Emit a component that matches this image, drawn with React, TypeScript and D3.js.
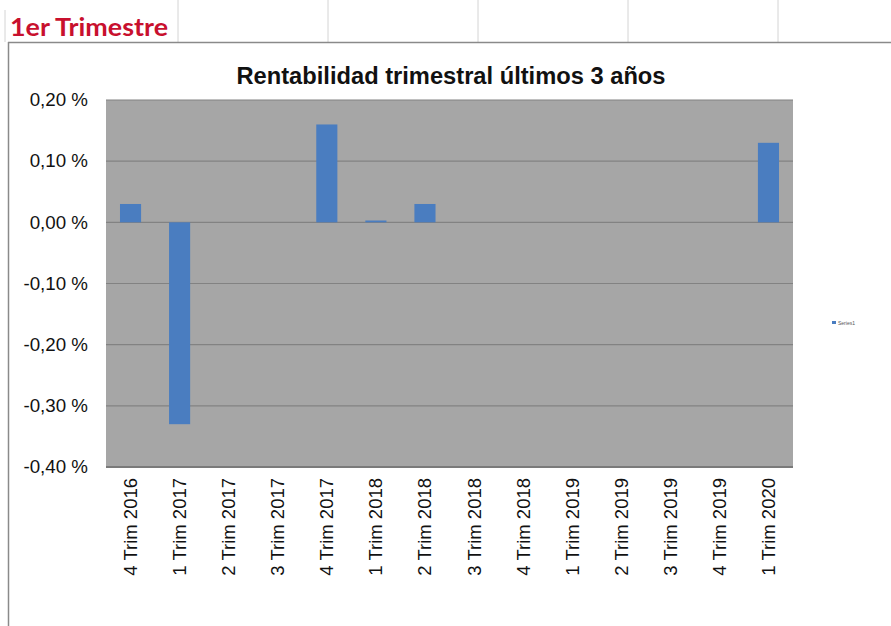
import * as d3 from "d3";

const categories = [
  "4 Trim 2016", "1 Trim 2017", "2 Trim 2017", "3 Trim 2017", "4 Trim 2017",
  "1 Trim 2018", "2 Trim 2018", "3 Trim 2018", "4 Trim 2018",
  "1 Trim 2019", "2 Trim 2019", "3 Trim 2019", "4 Trim 2019", "1 Trim 2020",
];
const series1 = [0.03, -0.33, 0, 0, 0.16, 0.003, 0.03, 0, 0, 0, 0, 0, 0, 0.13];
const yTicks = [0.2, 0.1, 0, -0.1, -0.2, -0.3, -0.4];
const sheetCols = [178, 328, 478, 628, 778];

const W = 891;
const H = 626;
const plot = { left: 106, right: 793, top: 100, bottom: 467 };
const barColor = "#4a7dc0";
const arial = "'Liberation Sans', Arial, sans-serif";

const fmt = (v: number) => v.toFixed(2).replace(".", ",") + " %";

export default function App() {
  const x = d3.scaleBand<string>().domain(categories).range([plot.left, plot.right]);
  const y = d3.scaleLinear().domain([-0.4, 0.2]).range([plot.bottom, plot.top]);
  const barW = x.bandwidth() * 0.43;

  return (
    <div style={{ position: "absolute", left: 0, top: 0, background: "#fff" }}>
      <svg width={W} height={H} style={{ display: "block" }}>
        <rect width={W} height={H} fill="#fff" />
        {/* spreadsheet cells */}
        {sheetCols.map((c) => (
          <line key={c} x1={c} x2={c} y1={0} y2={42} stroke="#d4d4d4" />
        ))}
        <line x1={5} x2={5} y1={10} y2={42} stroke="#d4d4d4" />
        <text x={10} y={36} fill="#c8102e" fontFamily="Lato, 'Open Sans', sans-serif"
          fontWeight="bold" fontSize={24} textLength={158} lengthAdjust="spacingAndGlyphs">1er Trimestre</text>
        {/* chart frame */}
        <line x1={8} x2={W} y1={42.5} y2={42.5} stroke="#8a8a8a" strokeWidth={1.5} />
        <line x1={8.5} x2={8.5} y1={42} y2={H} stroke="#8a8a8a" strokeWidth={1.5} />

        <text x={451} y={84} textAnchor="middle" fontFamily={arial} fontWeight="bold"
          fontSize={23} fill="#111" textLength={429} lengthAdjust="spacingAndGlyphs">Rentabilidad trimestral últimos 3 años</text>

        <rect x={plot.left} y={plot.top} width={plot.right - plot.left}
          height={plot.bottom - plot.top} fill="#a6a6a6" />
        {yTicks.map((t) => (
          <g key={t}>
            <line x1={plot.left} x2={plot.right} y1={y(t)} y2={y(t)}
              stroke={t === -0.4 ? "#7a7a7a" : "#828282"} strokeWidth={t === -0.4 ? 2 : 1.2} />
            <text x={88} y={y(t)} dy="0.35em" textAnchor="end" fontFamily={arial}
              fontSize={18} fill="#111" transform={`translate(${88 - 88 * 1.04},0) scale(1.04,1)`}>{fmt(t)}</text>
          </g>
        ))}

        {categories.map((c, i) => {
          const v = series1[i];
          const cx = (x(c) ?? 0) + x.bandwidth() / 2;
          return (
            <g key={c}>
              {v !== 0 && (
                <rect x={cx - barW / 2} y={y(Math.max(0, v))} width={barW}
                  height={Math.max(1.5, Math.abs(y(v) - y(0)))} fill={barColor} />
              )}
              <text transform={`translate(${cx},478) rotate(-90)`} dy="0.35em"
                textAnchor="end" fontFamily={arial} fontSize={18.5} fill="#111">{c}</text>
            </g>
          );
        })}

        {/* legend */}
        <rect x={832} y={321} width={4} height={3} fill={barColor} />
        <text x={838} y={324.5} fontFamily={arial} fontSize={5} fill="#555">Series1</text>
      </svg>
    </div>
  );
}
